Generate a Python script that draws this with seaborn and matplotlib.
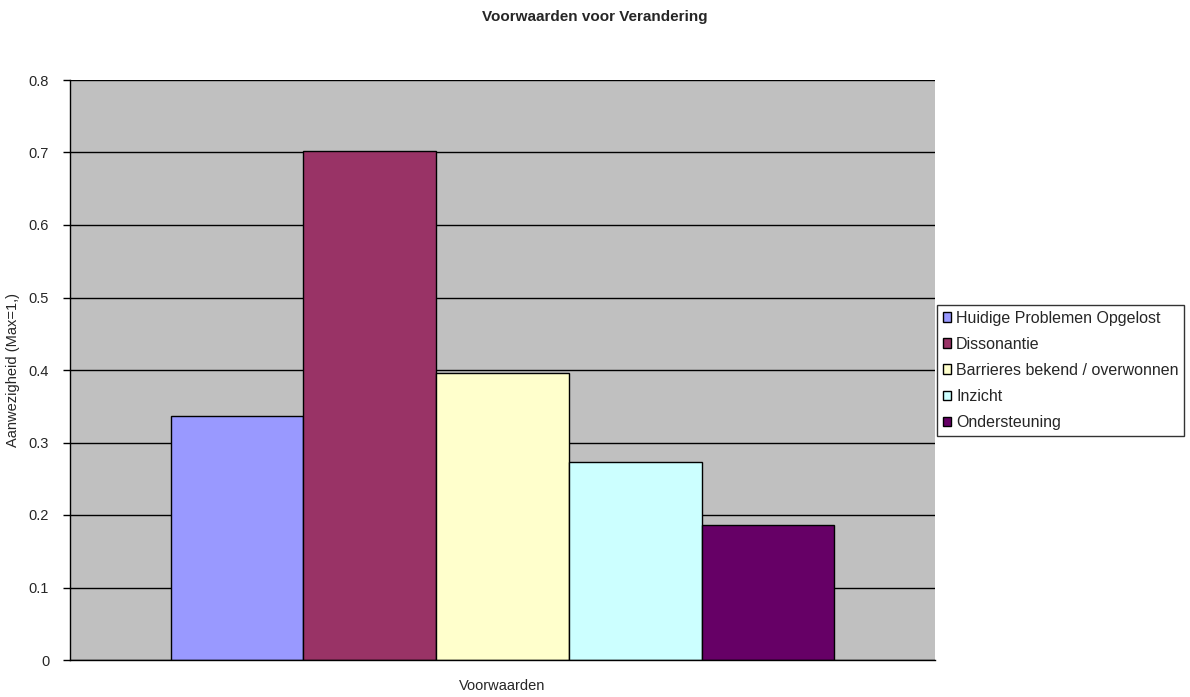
import pandas as pd
import numpy as np
import matplotlib
matplotlib.use("Agg")
import matplotlib.pyplot as plt
import seaborn as sns

# data
groep = ["Voorwaarden"]
reeksen = ["Huidige Problemen Opgelost", "Dissonantie", "Barrieres bekend / overwonnen",
           "Inzicht", "Ondersteuning"]
waarden = [0.337, 0.702, 0.396, 0.273, 0.186]
kleuren = ["#9999FF", "#993366", "#FFFFCC", "#CCFFFF", "#660066"]

df = pd.DataFrame({"groep": groep * len(reeksen), "reeks": reeksen, "waarde": waarden})

sns.set_style("white")
plt.rcParams["font.family"] = ["Liberation Sans", "DejaVu Sans"]

fig = plt.figure(figsize=(11.9, 6.97), dpi=100)
ax = fig.add_axes([70 / 1190, 37 / 697, 865 / 1190, 580 / 697])
ax.set_facecolor("#C0C0C0")

sns.barplot(data=df, x="groep", y="waarde", hue="reeks", palette=kleuren, saturation=1,
            width=0.767, edgecolor="black", linewidth=1, ax=ax, legend=True)

ax.set_xlim(-0.5, 0.5)
ax.set_ylim(0, 0.8)
ax.set_yticks(np.arange(0, 0.81, 0.1))
ax.set_yticklabels(["0"] + [f"{v:.1f}" for v in np.arange(0.1, 0.81, 0.1)], fontsize=10.5)
ax.yaxis.grid(True, color="black", linewidth=1)
ax.set_axisbelow(True)
ax.tick_params(axis="y", length=5, width=1, color="black", direction="out", left=True, pad=10)
ax.set_xticks([])
for s in ["top", "right"]:
    ax.spines[s].set_visible(False)
for s in ["left", "bottom"]:
    ax.spines[s].set_color("black")
    ax.spines[s].set_linewidth(1)

ax.set_xlabel("Voorwaarden", fontsize=10.5, labelpad=14)
ax.set_ylabel("Aanwezigheid (Max=1,)", fontsize=10.5, labelpad=6)
fig.suptitle("Voorwaarden voor Verandering", fontsize=11, fontweight="bold", y=0.985)

leg = ax.legend(loc="upper left", bbox_to_anchor=(937 / 1190, 1 - 305 / 697),
                bbox_transform=fig.transFigure, frameon=True, fancybox=False,
                edgecolor="black", fontsize=11.5, handlelength=0.55, handleheight=0.55,
                handletextpad=0.3, borderpad=0.35, labelspacing=0.7, borderaxespad=0)
leg.get_frame().set_linewidth(1)

fig.savefig("out.png", dpi=100, facecolor="white")
